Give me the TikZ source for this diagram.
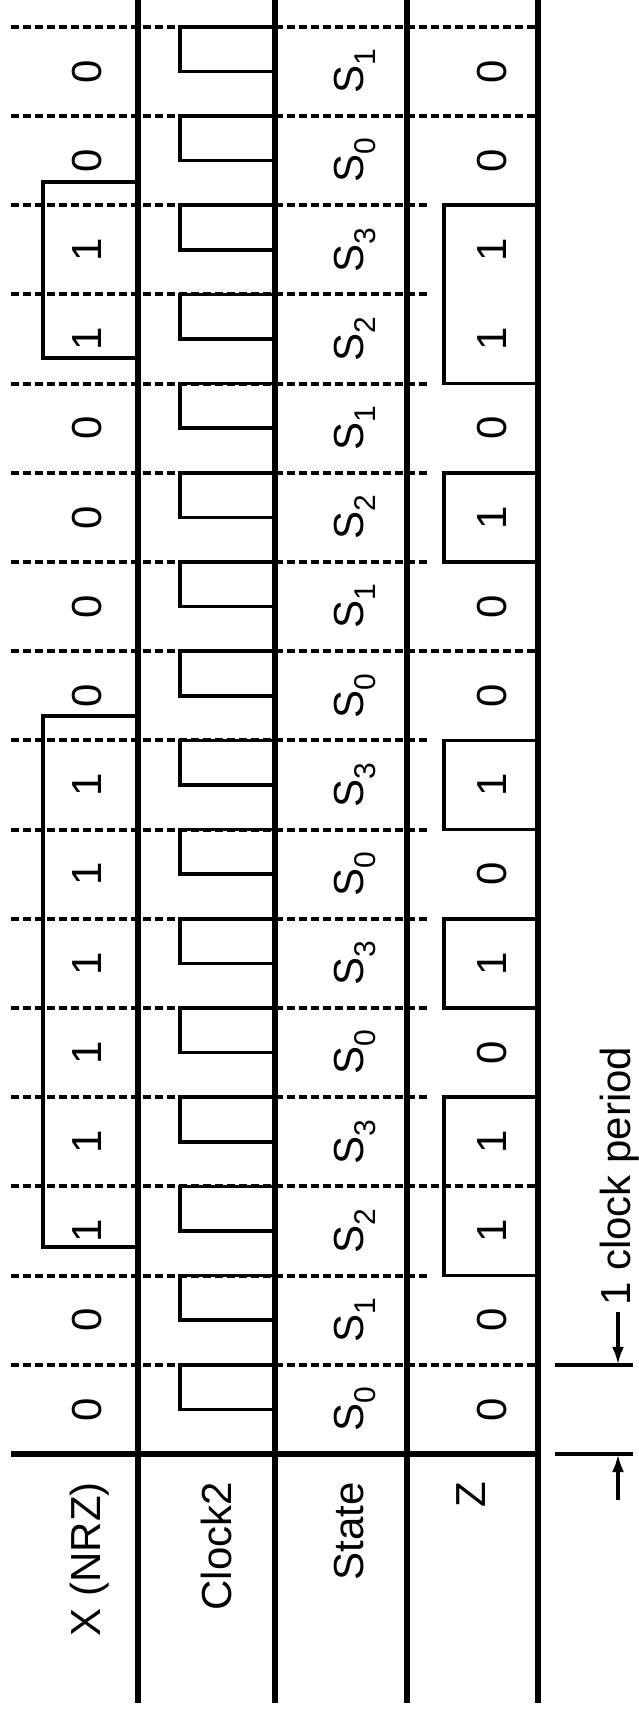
\documentclass[tikz,border=0pt]{standalone}
\usepackage{fontspec}
\setmainfont{Liberation Sans}
\usetikzlibrary{arrows.meta}

\newcommand{\stsub}[1]{S\raisebox{-0.3em}{\fontsize{30}{30}\selectfont #1}}

\tikzset{
  sig/.style={line width=3.6pt, line join=miter},
  bar/.style={line width=6.4pt},
  tick/.style={line width=4pt, dash pattern=on 8pt off 4pt},
  val/.style={font=\fontsize{42}{50}\selectfont, rotate=90, inner sep=0pt},
  dimarrow/.style={sig, -{Latex[length=18pt, width=12pt]}},
}

\begin{document}
\begin{tikzpicture}[x=1pt, y=-1pt]
  \useasboundingbox (0,0) rectangle (638,1711);
  \def\T{89.2};
  \def\yo{1454};
  % period lines
  \foreach \k/\e in {1/538, 2/427, 3/538, 4/427, 5/427, 6/427, 7/427, 8/427,
                     9/538, 10/427, 11/427, 12/427, 13/427, 14/427, 15/538, 16/538}
    \draw[tick] (11, {\yo-\k*\T}) -- (\e, {\yo-\k*\T});
  % row borders
  \draw[bar] (138,0) -- (138,1703);
  \draw[bar] (275,0) -- (275,1703);
  \draw[bar] (407,0) -- (407,1703);
  \draw[bar] (538,0) -- (538,1703);
  \draw[bar] (11,\yo) -- (538,\yo);
  % Clock2
  \foreach \k in {0,...,15}
    \draw[sig] (275, {\yo-(\k+1)*\T}) -- (180, {\yo-(\k+1)*\T})
      -- (180, {\yo-(\k+0.5)*\T}) -- (275, {\yo-(\k+0.5)*\T});
  % X (NRZ)
  \draw[sig] (138,1247) -- (43,1247) -- (43,716) -- (138,716);
  \draw[sig] (138,358) -- (43,358) -- (43,182) -- (138,182);
  % Z
  \foreach \a/\b in {2/4, 5/6, 7/8, 10/11, 12/14}
    \draw[sig] (538, {\yo-\a*\T}) -- (444, {\yo-\a*\T})
      -- (444, {\yo-\b*\T}) -- (538, {\yo-\b*\T});
  % values per period
  \foreach \k/\xv/\sv/\zv in {0/0/0/0, 1/0/1/0, 2/1/2/1, 3/1/3/1, 4/1/0/0, 5/1/3/1,
                              6/1/0/0, 7/1/3/1, 8/0/0/0, 9/0/1/0, 10/0/2/1, 11/0/1/0,
                              12/1/2/1, 13/1/3/1, 14/0/0/0, 15/0/1/0} {
    \node[val] (x\k) at (87, {\yo-(\k+0.5)*\T}) {\xv};
    \node[val] (s\k) at (355, {\yo-(\k+0.5)*\T}) {\stsub{\sv}};
    \node[val] (z\k) at (492, {\yo-(\k+0.5)*\T}) {\zv};
  }
  % row names
  \node[val, anchor=east] (xname) at (90,1482) {X (NRZ)};
  \node[val, anchor=east] (clkname) at (216,1482) {Clock2};
  \node[val, anchor=east] (stname) at (349,1482) {State};
  \node[val, anchor=east] (zname) at (471,1482) {Z};
  % 1 clock period
  \coordinate (P0) at (618,\yo);
  \coordinate (P1) at (618,{\yo-\T});
  \coordinate (A0) at (618,1500);
  \coordinate (A1) at (618,1312);
  \draw[sig] (555,\yo) -- (633,\yo);
  \draw[sig] (555,{\yo-\T}) -- (633,{\yo-\T});
  \node[val, anchor=west] (per) at (620,1306) {1 clock period};
  \draw[dimarrow] (A0) -- (P0);
  \draw[dimarrow] (A1) -- (P1);
\end{tikzpicture}
\end{document}
